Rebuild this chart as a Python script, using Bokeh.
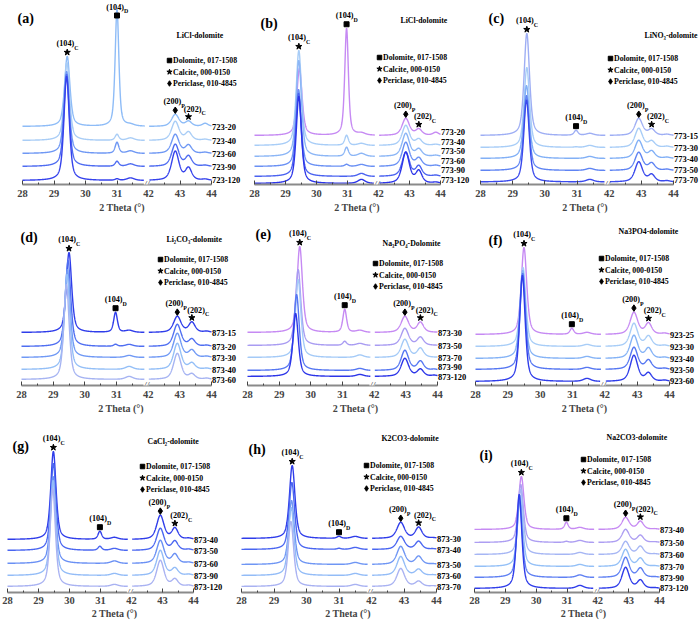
import numpy as np
from bokeh.plotting import figure
from bokeh.models import Range1d, FixedTicker, Label
from bokeh.layouts import column, row
from bokeh.embed import file_html
from bokeh.resources import INLINE

FONT = "Liberation Serif"

# ---------------- data (intensities in a.u.) ----------------
TICKS = [28, 29, 30, 31, 42, 43, 44]
LEGEND_TEXT = ["Dolomite, 017-1508", "Calcite, 000-0150", "Periclase, 010-4845"]
LEGEND_MARK = ["square", "star", "diamond"]

# peak positions per panel: (104)D, small 31.4 band, (200)P, (202)C, 43.8 band
A_TITLE = "LiCl-dolomite"
A_LABELS = ["723-20", "723-40", "723-60", "723-90", "723-120"]
A_OFFSET = [57, 43, 30, 17, 3]
A_C104 = [70, 78, 82, 92, 104]
A_C104_POS = [29.42, 29.41, 29.40, 29.40, 29.40]
A_D104 = [117, 6, 11, 5, 1.5]
A_B314 = [1.5, 2.5, 2.5, 2.5, 2.5]
A_P200 = [12, 19, 19, 22, 29]
A_C202 = [5, 8, 8, 10, 12]
A_B438 = [3, 1, 1, 1, 1]
A_POS = [31.0, 31.43, 42.85, 43.27, 43.8]
A_COLORS = ["#8ebcf7", "#a9cdf6", "#6f98f4", "#4f6cf1", "#3542ec"]

B_TITLE = "LiCl-dolomite"
B_LABELS = ["773-20", "773-40", "773-50", "773-60", "773-90", "773-120"]
B_OFFSET = [50, 40, 29, 19, 9, 2]
B_C104 = [67, 95, 96, 77, 83, 87]
B_C104_POS = [29.45, 29.43, 29.43, 29.42, 29.42, 29.43]
B_D104 = [107, 10, 9, 2, 0, 0]
B_B314 = [2, 2, 3, 2, 3, 4]
B_P200 = [17, 20, 23, 24, 24, 31]
B_C202 = [6, 6, 7, 8, 10, 12]
B_B438 = [3, 1, 1, 1, 1, 1]
B_POS = [30.97, 31.45, 42.88, 43.3, 43.85]
B_COLORS = ["#c68af3", "#a8cdf7", "#8cb6f6", "#6a90f4", "#4a62f0", "#2c35e8"]

C_TITLE = "LiNO\u2083-dolomite"
C_LABELS = ["773-15", "773-30", "773-40", "773-50", "773-70"]
C_OFFSET = [48, 36, 25, 13, 1.5]
C_C104 = [102, 80, 73, 75, 82]
C_C104_POS = [29.44, 29.44, 29.43, 29.43, 29.43]
C_D104 = [5, 0.5, 0, 0, 0]
C_B314 = [2, 2, 2, 2, 2.5]
C_P200 = [17, 19, 18, 18, 20]
C_C202 = [6, 6, 7, 7, 7]
C_B438 = [1, 1, 1, 1, 1]
C_POS = [30.97, 31.4, 42.92, 43.32, 43.8]
C_COLORS = ["#9eaef4", "#a8cdf7", "#82b0f6", "#5f84f3", "#3a4aec"]

D_TITLE = "Li\u2082CO\u2083-dolomite"
D_LABELS = ["873-15", "873-20", "873-30", "873-40", "873-60"]
D_OFFSET = [57, 43, 32, 20, 10]
D_C104 = [80, 86, 88, 95, 95]
D_C104_POS = [29.50, 29.47, 29.45, 29.44, 29.42]
D_D104 = [20, 2, 0, 0, 0]
D_B314 = [2, 2, 2, 3, 3]
D_P200 = [16, 22, 24, 26, 26]
D_C202 = [10, 7, 7, 6, 5]
D_B438 = [1, 1, 1, 1, 1]
D_POS = [30.97, 31.4, 42.92, 43.38, 43.85]
D_COLORS = ["#2f3dea", "#4f6ef1", "#7099f5", "#94bff7", "#a6b4f2"]

E_TITLE = "Na\u2083PO\u2084-Dolomite"
E_LABELS = ["873-30", "873-50", "873-70", "873-90", "873-120"]
E_OFFSET = [46, 33, 21, 8, 2]
E_C104 = [86, 76, 78, 76, 63]
E_C104_POS = [29.65, 29.60, 29.60, 29.55, 29.52]
E_D104 = [23, 4, 0, 0, 0]
E_B314 = [2, 2, 2.5, 2, 2]
E_P200 = [16, 17, 18, 20, 18]
E_C202 = [10, 8, 9, 9, 7]
E_B438 = [0, 0, 0, 1, 1]
E_POS = [31.07, 31.55, 42.97, 43.46, 43.9]
E_COLORS = ["#c68af3", "#a99cf2", "#a4caf7", "#5677f2", "#2c35e8"]

F_TITLE = "Na3PO4-dolomite"
F_LABELS = ["923-25", "923-30", "923-40", "923-50", "923-60"]
F_OFFSET = [50, 38, 26, 15, 3]
F_C104 = [87, 79, 88, 96, 106]
F_C104_POS = [29.50, 29.47, 29.46, 29.46, 29.45]
F_D104 = [6, 0, 0, 0, 0]
F_B314 = [2, 2, 2, 2, 3]
F_P200 = [22, 23, 23, 22, 26]
F_C202 = [11, 10, 10, 9, 8]
F_B438 = [1, 1, 1, 1, 1]
F_POS = [30.98, 31.45, 42.9, 43.35, 43.85]
F_COLORS = ["#c68af3", "#a8cdf7", "#85b3f6", "#5677f2", "#2f3dea"]

G_TITLE = "CaCl\u2082-dolomite"
G_LABELS = ["873-40", "873-50", "873-60", "873-90", "873-120"]
G_OFFSET = [54, 43, 30, 18, 7]
G_C104 = [88, 87, 87, 95, 98]
G_C104_POS = [29.48, 29.48, 29.47, 29.47, 29.46]
G_D104 = [8, 4, 0, 0, 0]
G_B314 = [2, 2, 2.5, 2, 2]
G_P200 = [24, 22, 23, 25, 26]
G_C202 = [11, 9, 9, 7, 7]
G_B438 = [1, 1, 1, 1, 1]
G_POS = [30.98, 31.45, 42.93, 43.4, 43.85]
G_COLORS = ["#2f3dea", "#4a66f1", "#6a90f4", "#93bcf7", "#a9b2f2"]

H_TITLE = "K2CO3-dolomite"
H_LABELS = ["873-30", "873-40", "873-50", "873-60", "873-70"]
H_OFFSET = [56, 45, 30, 19, 8]
H_C104 = [73, 67, 64, 68, 65]
H_C104_POS = [29.56, 29.55, 29.54, 29.53, 29.52]
H_D104 = [2, 1, 0, 0, 0]
H_B314 = [2, 2, 2, 2, 2]
H_P200 = [16, 13, 18, 19, 18]
H_C202 = [11, 8, 8, 6, 5]
H_B438 = [0.5, 0.5, 0.5, 0.5, 0.5]
H_POS = [31.0, 31.5, 42.9, 43.45, 43.9]
H_COLORS = ["#2f3dea", "#4a66f1", "#6f96f4", "#93bcf7", "#a9b2f2"]

I_TITLE = "Na2CO3-dolomite"
I_LABELS = ["873-40", "873-50", "873-60", "873-70", "873-90", "873-120"]
I_OFFSET = [65, 52, 40, 28, 17, 6]
I_C104 = [53, 58, 65, 71, 78, 94]
I_C104_POS = [29.52, 29.50, 29.50, 29.48, 29.46, 29.45]
I_D104 = [7, 1, 0, 0, 0, 0]
I_B314 = [2, 2, 2, 2, 2.5, 3]
I_P200 = [12, 13, 13, 17, 20, 21]
I_C202 = [8, 7, 8, 8, 9, 8]
I_B438 = [0.5, 0.5, 0.5, 0.5, 0.5, 0.5]
I_POS = [30.98, 31.42, 42.9, 43.38, 43.85]
I_COLORS = ["#c68af3", "#ad9ef2", "#a6b6f4", "#94c0f7", "#5f80f3", "#2f3dea"]

# peak widths (FWHM, degrees)
W_C104, W_D104, W_B314, W_P200, W_C202, W_B438 = 0.20, 0.14, 0.28, 0.28, 0.24, 0.22


def pack(letter, title, labels, offset, c104, c104pos, d104, b314, p200, c202, b438, pos, colors):
    return dict(letter=letter, title=title, labels=labels, offset=offset, c104=c104,
                c104pos=c104pos, d104=d104, b314=b314, p200=p200, c202=c202,
                b438=b438, pos=pos, colors=colors)


PANELS = [
    pack("(a)", A_TITLE, A_LABELS, A_OFFSET, A_C104, A_C104_POS, A_D104, A_B314, A_P200, A_C202, A_B438, A_POS, A_COLORS),
    pack("(b)", B_TITLE, B_LABELS, B_OFFSET, B_C104, B_C104_POS, B_D104, B_B314, B_P200, B_C202, B_B438, B_POS, B_COLORS),
    pack("(c)", C_TITLE, C_LABELS, C_OFFSET, C_C104, C_C104_POS, C_D104, C_B314, C_P200, C_C202, C_B438, C_POS, C_COLORS),
    pack("(d)", D_TITLE, D_LABELS, D_OFFSET, D_C104, D_C104_POS, D_D104, D_B314, D_P200, D_C202, D_B438, D_POS, D_COLORS),
    pack("(e)", E_TITLE, E_LABELS, E_OFFSET, E_C104, E_C104_POS, E_D104, E_B314, E_P200, E_C202, E_B438, E_POS, E_COLORS),
    pack("(f)", F_TITLE, F_LABELS, F_OFFSET, F_C104, F_C104_POS, F_D104, F_B314, F_P200, F_C202, F_B438, F_POS, F_COLORS),
    pack("(g)", G_TITLE, G_LABELS, G_OFFSET, G_C104, G_C104_POS, G_D104, G_B314, G_P200, G_C202, G_B438, G_POS, G_COLORS),
    pack("(h)", H_TITLE, H_LABELS, H_OFFSET, H_C104, H_C104_POS, H_D104, H_B314, H_P200, H_C202, H_B438, H_POS, H_COLORS),
    pack("(i)", I_TITLE, I_LABELS, I_OFFSET, I_C104, I_C104_POS, I_D104, I_B314, I_P200, I_C202, I_B438, I_POS, I_COLORS),
]

# ---------------- layout (page pixel positions) ----------------
ROW_TOP = [0, 215, 419]
ROW_H = [215, 204, 201]
ROW_AXIS = [184, 385, 592]          # axis line of each row (frames of a row are aligned)
ROW_STANDOFF = [(5, 2), (5, 2), (4, 1)]
ROW_COL_W = [[243, 227, 229], [241, 228, 230], [228, 239, 232]]
LABEL_GAP = 9.5
LAYOUT = [
    dict(ref_axis=183, x28=22, x44=211, letter=(17, 18), title=(176, 35), legend=(167, 60)),
    dict(ref_axis=185, x28=254, x44=440, letter=(260, 23), title=(400, 20), legend=(377, 57)),
    dict(ref_axis=183, x28=480, x44=673, letter=(488, 18), title=(644, 35), legend=(608, 58)),
    dict(ref_axis=389, x28=21, x44=211, letter=(20, 237), title=(166, 239), legend=(158, 259)),
    dict(ref_axis=378, x28=247, x44=437, letter=(255, 234), title=(382, 243), legend=(373, 263)),
    dict(ref_axis=384, x28=475, x44=669, letter=(488, 240), title=(618, 231), legend=(599, 258)),
    dict(ref_axis=593, x28=7, x44=193, letter=(12, 446), title=(147, 441), legend=(140, 466)),
    dict(ref_axis=594, x28=241, x44=436, letter=(248, 449), title=(381, 438), legend=(364, 465)),
    dict(ref_axis=594, x28=474, x44=659, letter=(479, 455), title=(606, 437), legend=(581, 459)),
]

U42 = 32.0  # position of 42 deg on the broken axis
LEFT_END = 31.88
XL = np.arange(28.0, LEFT_END + 1e-9, 0.005)
XR = np.arange(42.02, 44.0 + 1e-9, 0.005)


def to_u(x):
    x = np.asarray(x, dtype=float)
    return np.where(x < 37, x, x - 42.0 + U42)


def pv(x, x0, h, w, eta=0.55):
    t = (x - x0) / (w / 2.0)
    return h * (eta / (1 + t * t) + (1 - eta) * np.exp(-np.log(2) * t * t))


def profile(x, d, i):
    y = np.full_like(x, float(d["offset"][i]))
    y = y + pv(x, d["c104pos"][i], d["c104"][i], W_C104)
    y = y + pv(x, d["pos"][0], d["d104"][i], W_D104)
    y = y + pv(x, d["pos"][1], d["b314"][i], W_B314)
    y = y + pv(x, d["pos"][2], d["p200"][i], W_P200)
    y = y + pv(x, d["pos"][3], d["c202"][i], W_C202)
    y = y + pv(x, d["pos"][4], d["b438"][i], W_B438)
    return y


def tw(s, size):
    return sum(0.333 if c in "()" else 0.5 for c in s) * size


def add_text(p, x, y, txt, size, align="left", baseline="middle", style="bold"):
    p.add_layout(Label(x=x, y=y, text=txt, text_align=align, text_baseline=baseline,
                       text_font=FONT, text_font_style=style, text_font_size=f"{size}px",
                       text_color="black"))


def make_panel(k):
    d = PANELS[k]
    lay = LAYOUT[k]
    c, r = k % 3, k // 3
    widths = ROW_COL_W[r]
    left, width = sum(widths[:c]), widths[c]
    top, height = ROW_TOP[r], ROW_H[r]
    axis_y = ROW_AXIS[r]
    shift = axis_y - lay["ref_axis"]
    s = (lay["x44"] - lay["x28"]) / 6.0
    u0 = 28 - (lay["x28"] - left) / s
    u1 = u0 + width / s
    ytop = axis_y - top
    p = figure(frame_width=width, frame_height=ytop, x_range=Range1d(u0, u1),
               y_range=Range1d(-shift, ytop - shift),
               output_backend="svg", toolbar_location=None, y_axis_location=None,
               min_border_left=0, min_border_right=0, min_border_top=0,
               min_border_bottom=top + height - axis_y)
    p.outline_line_color = None
    p.xgrid.visible = False
    p.ygrid.visible = False
    p.background_fill_color = "white"
    p.border_fill_color = "white"

    fx = lambda px: u0 + (px - left) / s
    fy = lambda py: axis_y - py - shift

    ax = p.xaxis[0]
    ax.ticker = FixedTicker(ticks=[float(v) for v in to_u(TICKS)],
                            minor_ticks=[28.5, 29.5, 30.5, 31.5, U42 + 0.5, U42 + 1.5])
    ax.major_label_overrides = {float(u): str(t) for u, t in zip(to_u(TICKS), TICKS)}
    ax.bounds = (28, float(to_u(44)))
    ax.axis_label = "2 Theta (\u00b0)"
    ax.axis_label_text_font = FONT
    ax.axis_label_text_font_style = "bold"
    ax.axis_label_text_font_size = "10px"
    ax.axis_label_standoff = ROW_STANDOFF[r][1]
    ax.major_label_text_font = FONT
    ax.major_label_text_font_style = "bold"
    ax.major_label_text_font_size = "10.5px"
    ax.major_label_standoff = ROW_STANDOFF[r][0]
    ax.axis_line_color = "#8a8a8a"
    ax.axis_line_width = 2
    ax.major_tick_in = 4
    ax.major_tick_out = 0
    ax.minor_tick_in = 2
    ax.minor_tick_out = 0
    ax.major_tick_line_color = "#444444"
    ax.minor_tick_line_color = "#444444"

    n = len(d["labels"])
    ul, ur = to_u(XL), to_u(XR)
    yl_all, yr_all = [], []
    for i in range(n):
        yl = profile(XL, d, i)
        yr = profile(XR, d, i)
        yl_all.append(yl)
        yr_all.append(yr)
        p.line(ul, yl, line_color=d["colors"][i], line_width=1.4)
        p.line(ur, yr, line_color=d["colors"][i], line_width=1.4)

    # series labels at the right end, kept apart from each other and above the axis
    lab_y = [0.0] * n
    floor = 5 - shift
    for i in range(n - 1, -1, -1):
        lab_y[i] = max(yr_all[i][-1] - 1, floor)
        floor = lab_y[i] + LABEL_GAP
    for i in range(n):
        add_text(p, fx(lay["x44"] + 0.5), lab_y[i], d["labels"][i], 8.5)
    yl_all = np.array(yl_all)
    yr_all = np.array(yr_all)

    def top_at(xarr, yarr, x0, half=0.04):
        m = np.abs(xarr - x0) <= half
        return float(yarr[:, m].max())

    def sub_label(x, y, main, sub, size=8.2):
        sub_size = size * 0.72
        w = tw(main, size)
        ws = sub_size * 0.62
        x0 = x - (w + ws) / 2.0 / s
        add_text(p, x0, y, main, size, baseline="bottom")
        add_text(p, x0 + w / s, y - 2.5, sub, round(sub_size, 1), baseline="bottom")

    ic = int(np.argmax([profile(np.array([d["c104pos"][i]]), d, i)[0] for i in range(n)]))
    xc = d["c104pos"][ic]
    yc = top_at(XL, yl_all, xc)
    p.scatter([xc], [yc + 4], marker="star", size=6.5, color="black")
    sub_label(xc, yc + 8, "(104)", "C")

    xd = d["pos"][0]
    yd = top_at(XL, yl_all, xd)
    lab_d = min(yd + 8, ytop - shift - 11)
    p.scatter([xd], [min(yd + 4, lab_d - 4)], marker="square", size=5, color="black")
    sub_label(xd, lab_d, "(104)", "D")

    xp = d["pos"][2]
    yp = top_at(XR, yr_all, xp)
    p.scatter([float(to_u(xp))], [yp + 4], marker="diamond", size=6.5, color="black")
    sub_label(float(to_u(xp)) - 1.0 / s, yp + 8, "(200)", "P")

    xq = d["pos"][3]
    yq = top_at(XR, yr_all, xq, 0.01)
    p.scatter([float(to_u(xq))], [yq + 4], marker="star", size=6.5, color="black")
    sub_label(float(to_u(xq)) + 6.0 / s, yq + 7, "(202)", "C")

    # break mark on the axis
    p.add_layout(Label(x=(LEFT_END + U42) / 2.0, y=-shift, text="//", text_align="center",
                       text_baseline="middle", text_font=FONT, text_font_size="10px",
                       text_font_style="italic", background_fill_color="white"))

    add_text(p, fx(lay["letter"][0]), fy(lay["letter"][1]), d["letter"], 14)
    add_text(p, fx(lay["title"][0]), fy(lay["title"][1]), d["title"], 7.8)
    lx, ly = lay["legend"]
    for j, (txt, mk) in enumerate(zip(LEGEND_TEXT, LEGEND_MARK)):
        yy = fy(ly + j * 11.5)
        p.scatter([fx(lx + 2)], [yy], marker=mk, size=4.5 if mk == "square" else 5.5, color="black")
        add_text(p, fx(lx + 5.5), yy, txt, 7.8)
    return p


figs = [make_panel(k) for k in range(9)]
layout = column(row(figs[0], figs[1], figs[2]), row(figs[3], figs[4], figs[5]),
                row(figs[6], figs[7], figs[8]))

with open("out.html", "w") as f:
    f.write(file_html(layout, INLINE))
